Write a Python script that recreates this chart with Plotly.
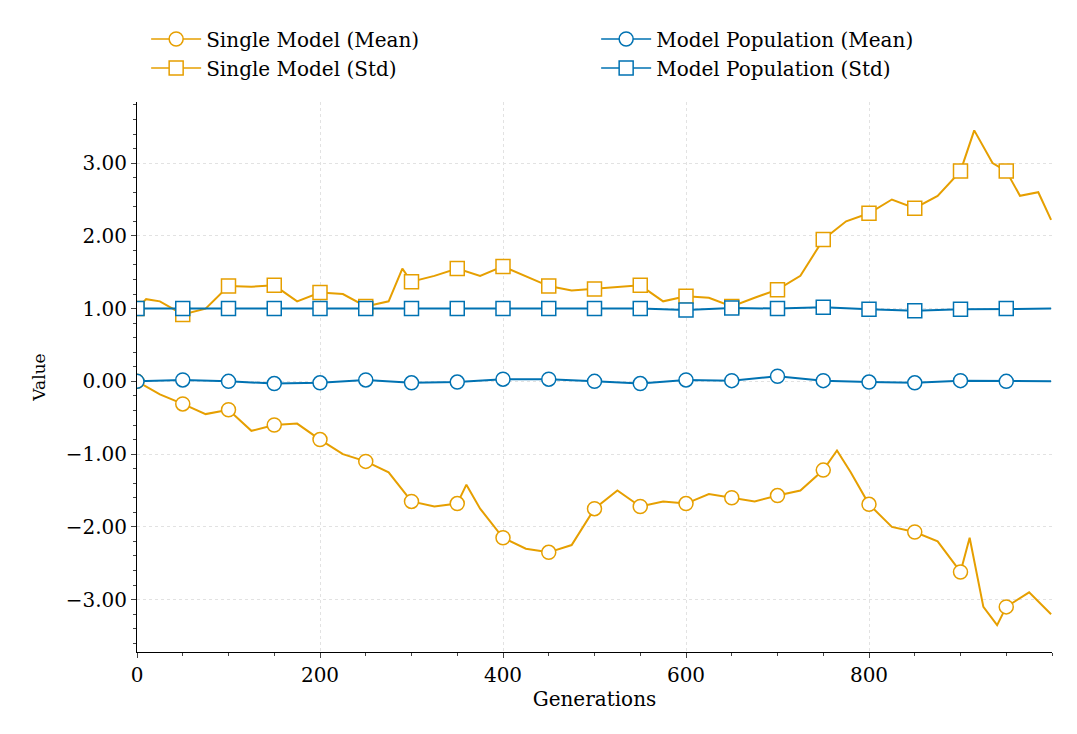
import plotly.graph_objects as go

OR = "#E69F00"; BL = "#0072B2"
mk_x = list(range(0, 1000, 50))
sm_mean_mk = [0.0,-0.31,-0.39,-0.60,-0.80,-1.10,-1.65,-1.68,-2.15,-2.35,-1.75,-1.72,-1.68,-1.60,-1.57,-1.22,-1.69,-2.07,-2.62,-3.10]
sm_std_mk = [1.0,0.92,1.31,1.32,1.22,1.03,1.37,1.55,1.58,1.31,1.27,1.32,1.17,1.03,1.26,1.95,2.31,2.38,2.89,2.89]
mp_mean_mk = [0.0,0.02,0.0,-0.03,-0.02,0.02,-0.02,-0.01,0.03,0.03,0.0,-0.03,0.02,0.01,0.07,0.01,-0.01,-0.02,0.01,0.0]
mp_std_mk = [1.0,1.0,1.0,1.0,1.0,1.0,1.0,1.0,1.0,1.0,1.0,1.0,0.98,1.01,1.0,1.02,0.99,0.97,0.99,1.0]

sm_mean_x = [0,25,50,75,100,125,150,175,200,225,250,275,300,325,350,360,375,400,425,450,475,500,525,550,575,600,625,650,675,700,725,750,765,780,800,825,850,875,900,910,925,940,950,975,999]
sm_mean_y = [0.0,-0.18,-0.31,-0.45,-0.39,-0.68,-0.60,-0.58,-0.80,-1.0,-1.10,-1.25,-1.65,-1.72,-1.68,-1.42,-1.75,-2.15,-2.30,-2.35,-2.25,-1.75,-1.50,-1.72,-1.65,-1.68,-1.55,-1.60,-1.65,-1.57,-1.50,-1.22,-0.95,-1.25,-1.69,-2.0,-2.07,-2.2,-2.62,-2.15,-3.1,-3.35,-3.10,-2.9,-3.2]
sm_std_x = [0,10,25,50,75,100,125,150,175,200,225,250,275,290,300,325,350,375,400,425,450,475,500,525,550,575,600,625,650,675,700,725,750,775,800,825,850,875,900,915,935,950,965,985,999]
sm_std_y = [1.0,1.13,1.1,0.92,1.0,1.31,1.3,1.32,1.1,1.22,1.2,1.03,1.1,1.55,1.37,1.45,1.55,1.45,1.58,1.45,1.31,1.25,1.27,1.3,1.32,1.1,1.17,1.15,1.03,1.15,1.26,1.45,1.95,2.2,2.31,2.5,2.38,2.55,2.89,3.45,3.0,2.89,2.55,2.6,2.22]

fig = go.Figure()
def add(x, y, mx, my, col, sym):
    fig.add_trace(go.Scatter(x=x, y=y, mode="lines", line=dict(color=col, width=2), showlegend=False))
    fig.add_trace(go.Scatter(x=mx, y=my, mode="markers", showlegend=False,
        marker=dict(symbol=sym, size=14, color="white", line=dict(color=col, width=1.5))))
add(sm_mean_x, sm_mean_y, mk_x, sm_mean_mk, OR, "circle")
add(sm_std_x, sm_std_y, mk_x, sm_std_mk, OR, "square")
add(mk_x+[999], mp_mean_mk+[0.0], mk_x, mp_mean_mk, BL, "circle")
add(mk_x+[999], mp_std_mk+[1.0], mk_x, mp_std_mk, BL, "square")
for name, col, sym in [("Single Model (Mean)",OR,"circle"),("Model Population (Mean)",BL,"circle"),
                       ("Single Model (Std)",OR,"square"),("Model Population (Std)",BL,"square")]:
    fig.add_trace(go.Scatter(x=[None], y=[None], mode="lines+markers", name=name,
        line=dict(color=col, width=1.5), marker=dict(symbol=sym, size=14, color="white", line=dict(color=col, width=1.5))))

fig.update_layout(width=1077, height=734, plot_bgcolor="white", paper_bgcolor="white",
    font=dict(family="DejaVu Serif", size=20, color="black"),
    margin=dict(l=129, r=33, t=88, b=90),
    legend=dict(orientation="h", x=0.01, y=1.15, xanchor="left", yanchor="top", entrywidth=385,
                font=dict(size=20), tracegroupgap=0, itemwidth=50),
    xaxis=dict(range=[0,1000], tickvals=[0,200,400,600,800], showline=True, linecolor="black",
        ticks="outside", showgrid=True, gridcolor="#e2e2e2", griddash="dot", gridwidth=1, zeroline=False,
        minor=dict(ticks="outside", dtick=50, ticklen=3, showgrid=False),
        title=dict(text="Generations", standoff=5, font=dict(size=20))),
    yaxis=dict(range=[-3.72,3.84], tickvals=[-3,-2,-1,0,1,2,3], tickformat=".2f", showline=True, linecolor="black",
        ticks="outside", showgrid=True, gridcolor="#e2e2e2", griddash="dot", gridwidth=1, zeroline=False,
        minor=dict(ticks="outside", dtick=0.2, ticklen=3, showgrid=False),
        title=dict(text="Value", font=dict(size=17))))
fig.write_html("out.html")
